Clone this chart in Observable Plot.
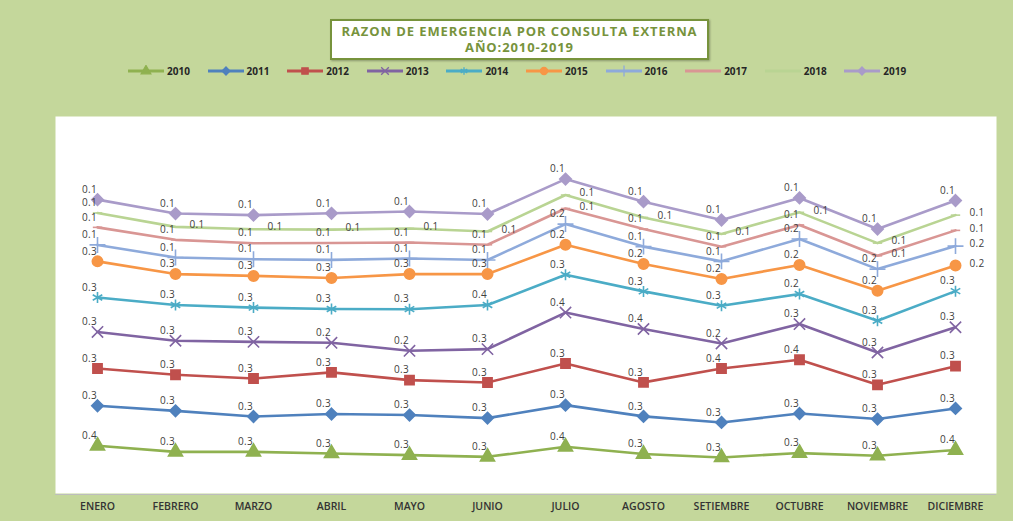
<!DOCTYPE html>
<html><head><meta charset="utf-8">
<script src="https://cdn.jsdelivr.net/npm/d3@7"></script>
<script src="https://cdn.jsdelivr.net/npm/@observablehq/plot@0.6"></script>
<style>
body{margin:0;background:#c4d79b;}
#wrap{position:relative;width:1013px;height:521px;background:#c4d79b;overflow:hidden;font-family:"Open Sans",sans-serif;}
#chart{position:absolute;left:0;top:0;}
#title{position:absolute;left:330px;top:19px;width:375px;height:35px;border:2px solid #77933c;background:#fff;color:#77933c;font-weight:700;font-size:13px;letter-spacing:0.9px;text-align:center;line-height:16px;padding-top:2px;box-shadow:1px 1px 2px rgba(0,0,0,.3)}
#legend{position:absolute;left:128px;top:62px;height:18px;display:flex;}
.item{width:79.6px;display:flex;align-items:center;}
.item span{font-size:10px;font-weight:700;color:#262626;margin-left:3px}
.lbl text{letter-spacing:0.3px}
</style></head><body>
<div id="wrap"><div id="chart"></div>
<div id="title">RAZON DE EMERGENCIA POR CONSULTA EXTERNA<br>AÑO:2010-2019</div>
<div id="legend"></div></div>
<script>
const months = ["ENERO","FEBRERO","MARZO","ABRIL","MAYO","JUNIO","JULIO","AGOSTO","SETIEMBRE","OCTUBRE","NOVIEMBRE","DICIEMBRE"];
const years = ["2010","2011","2012","2013","2014","2015","2016","2017","2018","2019"];
const v2010 = [0.394,0.344,0.344,0.331,0.317,0.303,0.386,0.326,0.298,0.334,0.312,0.359];
const v2011 = [0.331,0.339,0.292,0.326,0.331,0.320,0.344,0.311,0.289,0.327,0.303,0.344];
const v2012 = [0.308,0.298,0.314,0.344,0.289,0.294,0.344,0.281,0.446,0.444,0.283,0.349];
const v2013 = [0.302,0.281,0.303,0.244,0.242,0.276,0.421,0.441,0.207,0.295,0.267,0.322];
const v2014 = [0.285,0.295,0.283,0.280,0.344,0.364,0.312,0.311,0.312,0.248,0.262,0.298];
const v2015 = [0.298,0.256,0.262,0.256,0.290,0.256,0.248,0.226,0.221,0.240,0.248,0.212];
const v2016 = [0.136,0.137,0.138,0.149,0.129,0.116,0.171,0.144,0.145,0.215,0.179,0.160];
const v2017 = [0.145,0.146,0.132,0.140,0.132,0.126,0.129,0.145,0.121,0.116,0.110,0.130];
const v2018 = [0.119,0.107,0.116,0.110,0.116,0.110,0.111,0.096,0.105,0.104,0.105,0.126];
const v2019 = [0.110,0.110,0.116,0.135,0.140,0.144,0.132,0.130,0.116,0.119,0.116,0.121];
const seriesValues = [v2010,v2011,v2012,v2013,v2014,v2015,v2016,v2017,v2018,v2019];

const colors = ["#8fb150","#4f81bd","#c0504d","#8064a2","#4bacc6","#f79646","#8eaadb","#d99694","#b9d493","#a99bc9"];
const dash = {draw(ctx, size){ const r = Math.sqrt(size/Math.PI)*0.9; ctx.moveTo(-r,0); ctx.lineTo(r,0); }};
const symbols = ["triangle","diamond2","square","times","asterisk","circle","plus",dash,dash,"diamond2"];

const data = years.flatMap((y,i)=>months.map((m,j)=>({year:y, month:m, value:seriesValues[i][j]})));
const fmt = d3.format(".1f");

// labels that the reference places to the right of their point
const rightKeys = new Set(months.slice(1).map(m => "2018|" + m));
["2017|JULIO","2017|NOVIEMBRE","2017|DICIEMBRE","2016|DICIEMBRE","2015|DICIEMBRE"].forEach(k => rightKeys.add(k));
const isRight = d => rightKeys.has(d.year + "|" + d.month);

const chart = Plot.plot({
  width:1013, height:521, marginLeft:55, marginRight:17, marginTop:116, marginBottom:28,
  style:{background:"transparent", fontFamily:"Open Sans", overflow:"visible"},
  x:{type:"point", domain:months, padding:0.5, label:null},
  y:{domain:[0,3.115], axis:null},
  color:{domain:years, range:colors},
  symbol:{domain:years, range:symbols},
  marks:[
    Plot.frame({fill:"white", stroke:"none"}),
    Plot.ruleY([0],{stroke:"#bdbdbd", dy:1}),
    Plot.axisX({tickSize:0, tickPadding:9, fontSize:10.5, fontWeight:600, fill:"#333", label:null}),
    Plot.lineY(data, Plot.stackY2({x:"month", y:"value", z:"year", stroke:"year", strokeWidth:2.6})),
    Plot.dot(data, Plot.stackY2({x:"month", y:"value", z:"year", symbol:"year", fill:"year", stroke:"year", r:5.2, strokeWidth:1.6})),
    Plot.text(data, Plot.filter(d=>!isRight(d), Plot.stackY2({x:"month", y:"value", z:"year", text:d=>fmt(d.value), dx:-8, dy:-10, fontSize:10, fill:"#404040", className:"lbl"}))),
    Plot.text(data, Plot.filter(isRight, Plot.stackY2({x:"month", y:"value", z:"year", text:d=>fmt(d.value), dx:14, dy:-2, textAnchor:"start", fontSize:10, fill:"#404040", className:"lbl"})))
  ]
});
document.getElementById("chart").appendChild(chart);

// legend
const leg = document.getElementById("legend");
years.forEach((y,i)=>{
  const item = document.createElement("div"); item.className="item";
  const s = d3.create("svg").attr("width",36).attr("height",12);
  s.append("line").attr("x1",0).attr("x2",36).attr("y1",6).attr("y2",6).attr("stroke",colors[i]).attr("stroke-width",3);
  const sym = symbols[i];
  if (sym !== dash) {
    const map = {triangle:d3.symbolTriangle, diamond2:d3.symbolDiamond2, square:d3.symbolSquare, times:d3.symbolTimes, asterisk:d3.symbolAsterisk, circle:d3.symbolCircle, plus:d3.symbolPlus};
    s.append("path").attr("transform","translate(18,6)").attr("d", d3.symbol(map[sym], 40)()).attr("fill",colors[i]).attr("stroke",colors[i]).attr("stroke-width",1.3);
  }
  item.appendChild(s.node());
  const t = document.createElement("span"); t.textContent = y; item.appendChild(t);
  leg.appendChild(item);
});
</script>
</body></html>
